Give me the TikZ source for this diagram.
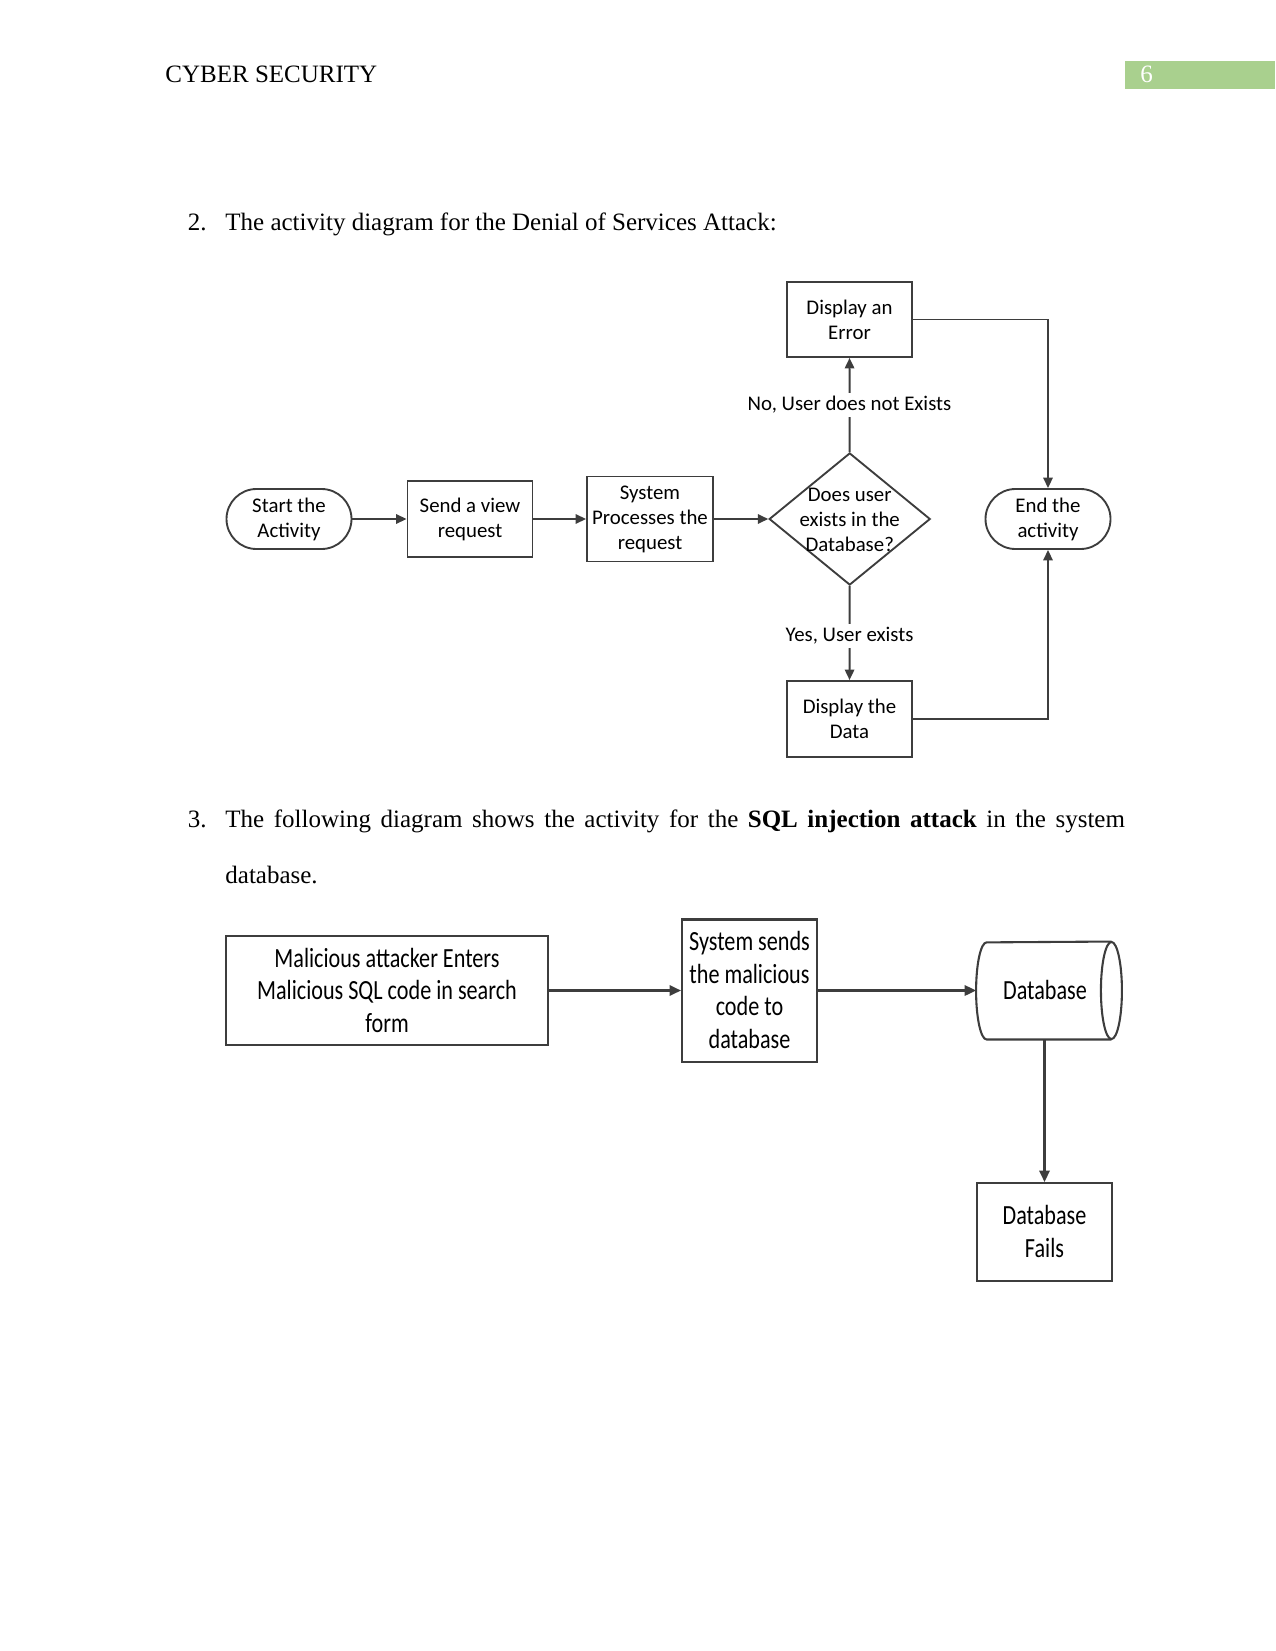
\documentclass[tikz,border=0pt]{standalone}
\usepackage{fontspec}
\setmainfont{Liberation Serif}
\newfontfamily\carl{Carlito}
\usepackage{graphicx}
\usetikzlibrary{arrows.meta,shapes.geometric,calc}
\definecolor{lc}{gray}{0.24}
\definecolor{pg}{HTML}{A9D08E}
\newcommand{\sqlt}[1]{\raisebox{-1.3pt}[\height][\depth]{\scalebox{0.8}[1]{\carl\fontsize{13.3}{15.6}\selectfont\begin{tabular}{@{}c@{}}#1\end{tabular}}}}
\begin{document}
\begin{tikzpicture}[x=0.48pt,y=-0.48pt,
  dfont/.style={font=\carl\fontsize{10}{12}\selectfont},
  dbox/.style={draw=lc, line width=0.9pt, rectangle, inner sep=0pt, align=center, dfont},
  term/.style={dbox, rounded corners=14.4pt},
  arr/.style={draw=lc, line width=0.9pt, -{Triangle[length=5pt,width=4.5pt]}},
  lbl/.style={fill=white, inner sep=1.5pt, dfont},
  sbox/.style={draw=lc, line width=1pt, rectangle, inner sep=0pt},
  sline/.style={draw=lc, line width=1pt},
  sarr/.style={draw=lc, line width=1pt, -{Triangle[length=5.5pt,width=5pt]}},
  body/.style={anchor=base west, inner sep=0pt, font=\fontsize{12}{14}\selectfont}]
\useasboundingbox (0,0) rectangle (1275,1651);

% header
\node[body] (hdr) at (165,83) {CYBER SECURITY};
\node[fill=pg, minimum width=72.3pt, minimum height=13.2pt, anchor=north west, inner sep=0pt] (pgbox) at (1124.4,61) {};
\node[body, text=white] (pgnum) at (1140,83) {6};

% item 2
\node[body] (n2) at (187.5,230.5) {2.};
\node[body] (t2) at (225,230.5) {The activity diagram for the Denial of Services Attack:};

% DoS diagram
\node[term, minimum width=60pt, minimum height=28.8pt] (start) at (289,519) {Start the\\Activity};
\node[dbox, minimum width=60pt, minimum height=36.5pt] (send) at (470,519) {Send a view\\request};
\node[dbox, minimum width=60.5pt, minimum height=40.8pt] (sys) at (650,519) {System\\Processes the\\request};
\node[diamond, draw=lc, line width=0.9pt, minimum width=77.3pt, minimum height=63.4pt, inner sep=0pt] (dec) at (849.7,519) {};
\node[dfont, align=center, inner sep=0pt] (dect) at (849.7,520) {Does user\\exists in the\\Database?};
\node[dbox, minimum width=60pt, minimum height=36pt] (err) at (849.5,319.5) {Display an\\Error};
\node[dbox, minimum width=60pt, minimum height=36.5pt] (data) at (849.5,719) {Display the\\Data};
\node[term, minimum width=60pt, minimum height=28.8pt] (end) at (1048,519) {End the\\activity};

\draw[arr] (start) -- (send);
\draw[arr] (send) -- (sys);
\draw[arr] (sys) -- (dec);
\draw[arr] (dec) -- (err);
\draw[arr] (dec) -- (data);
\draw[arr] (err.east) -| (end.north);
\draw[arr] (data.east) -| (end.south);
\node[lbl] (nolbl) at (849.5,405) {No, User does not Exists};
\node[lbl] (yeslbl) at (849.5,636) {Yes, User exists};

% item 3
\node[body] (n3) at (187.5,827) {3.};
\node[body] (t3) at (225,827) {\makebox[431.8pt][s]{The following diagram shows the activity for the \textbf{SQL injection attack} in the system}};
\node[body] (t3b) at (225,883) {database.};

% SQL diagram
\node[sbox, minimum width=154.6pt, minimum height=52.3pt] (mal) at (387,990.5) {\sqlt{Malicious attacker Enters\\Malicious SQL code in search\\form}};
\node[sbox, minimum width=64.8pt, minimum height=68.2pt] (snd) at (749.5,990.5) {\sqlt{System sends\\the malicious\\code to\\database}};
\node[minimum width=69.6pt, minimum height=46.6pt, inner sep=0pt] (db) at (1049,990.5) {};
\draw[sline] ($(db.south east)+(-10.5,0)$) -- ($(db.south west)+(10.5,0)$)
  arc[start angle=270, end angle=90, x radius=5.04pt, y radius=23.3pt]
  -- ($(db.north east)+(-10.5,0)$);
\draw[sline] ($(db.east)+(-10.5,0)$) ellipse [x radius=5.04pt, y radius=23.3pt];
\node[inner sep=0pt] (dbt) at (1045,990.5) {\sqlt{Database}};
\node[sbox, minimum width=64.8pt, minimum height=47pt] (fail) at (1044.5,1232) {\sqlt{Database\\Fails}};

\draw[sarr] (mal.east) -- (mal.east -| snd.west);
\draw[sarr] (snd.east) -- (snd.east -| db.west);
\draw[sarr] (db.south -| fail.north) -- (fail.north);
\end{tikzpicture}
\end{document}
